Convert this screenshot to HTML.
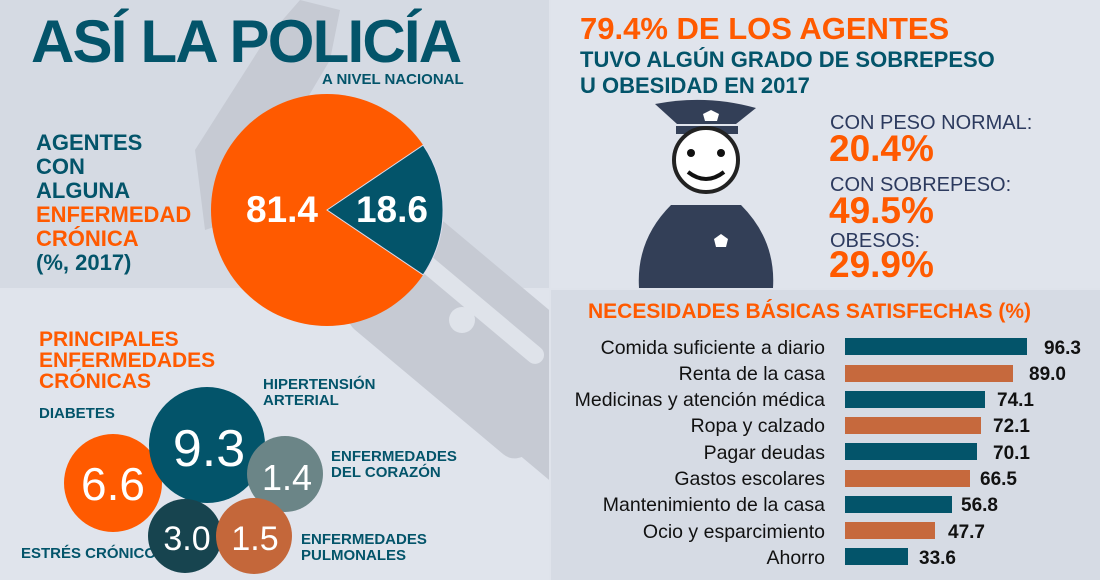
<!DOCTYPE html>
<html><head><meta charset="utf-8"><style>
*{margin:0;padding:0}
body{width:1100px;height:580px;overflow:hidden;position:relative;font-family:"Liberation Sans",sans-serif;background:#dfe3eb}
.a{position:absolute;white-space:nowrap}
.b{font-weight:bold}
.teal{color:#03546a}.or{color:#ff5a00}
</style></head><body>
<div class="a" style="left:0;top:0;width:549px;height:288px;background:#d5dae3"></div>
<div class="a" style="left:551px;top:0;width:549px;height:288px;background:#e0e4ec"></div>
<div class="a" style="left:0;top:290px;width:549px;height:290px;background:#e0e4ec"></div>
<div class="a" style="left:551px;top:290px;width:549px;height:290px;background:#d6dbe4"></div>
<!-- background cuffs -->
<svg class="a" style="left:0;top:0" width="549" height="580">
<g fill="#c6cad3">
<path d="M195 150 L265 40 L300 0 L340 10 L330 60 L235 220 L205 230 Z"/>
<rect x="360" y="265" width="230" height="140" rx="18" transform="rotate(40 470 335)"/>
<rect x="500" y="420" width="120" height="60" rx="10" transform="rotate(40 560 450)"/>
</g>
<g fill="#dfe3ea"><rect x="400" y="300" width="160" height="18" rx="9" transform="rotate(40 480 310)"/>
<circle cx="462" cy="320" r="13"/></g>
</svg>
<div class="a b teal" style="left:31px;top:7px;font-size:60px;letter-spacing:-1.8px">ASÍ LA POLICÍA</div>
<div class="a b teal" style="left:322px;top:71px;font-size:15px">A NIVEL NACIONAL</div>
<div class="a b" style="left:36px;top:131px;font-size:22px;line-height:24px">
<span class="teal">AGENTES<br>CON<br>ALGUNA</span><br><span class="or">ENFERMEDAD<br>CRÓNICA</span><br><span class="teal">(%, 2017)</span></div>
<svg class="a" style="left:0;top:0" width="549" height="340">
<circle cx="327" cy="210" r="116" fill="#ff5a00"/>
<path d="M327 210 L423.2 145.1 A116 116 0 0 1 423.2 274.9 Z" fill="#03546a" stroke="#dde" stroke-width="1"/>
<text x="282" y="222" font-size="37" font-weight="bold" fill="#fff" text-anchor="middle" font-family="Liberation Sans">81.4</text>
<text x="392" y="222" font-size="37" font-weight="bold" fill="#fff" text-anchor="middle" font-family="Liberation Sans">18.6</text>
</svg>
<!-- top right -->
<div class="a b or" style="left:580px;top:11px;font-size:31px">79.4% DE LOS AGENTES</div>
<div class="a b teal" style="left:580px;top:47px;font-size:22px;line-height:26px">TUVO ALGÚN GRADO DE SOBREPESO<br>U OBESIDAD EN 2017</div>
<svg class="a" style="left:551px;top:0" width="549" height="288">
<path d="M104 104 Q155 94 205 108 L185 124 L126 124 Z" fill="#333f57"/>
<rect x="125" y="126" width="62" height="8" fill="#333f57"/>
<circle cx="155" cy="160" r="32" fill="#fff" stroke="#222" stroke-width="4"/>
<circle cx="140" cy="153" r="4" fill="#111"/><circle cx="170" cy="153" r="4" fill="#111"/>
<path d="M137 172 Q155 186 173 172" fill="none" stroke="#111" stroke-width="4"/>
<path d="M120 205 L190 205 Q225 240 222 288 L88 288 Q85 240 120 205Z" fill="#333f57"/>
<polygon points="160,110 168,114 166,121 154,121 152,114" fill="#fff"/>
<polygon points="170,234 177,239 175,247 165,247 163,239" fill="#fff"/>
</svg>
<div class="a" style="left:830px;top:112px;font-size:20px;color:#2c3a5e">CON PESO NORMAL:</div>
<div class="a b or" style="left:829px;top:128px;font-size:37px">20.4%</div>
<div class="a" style="left:830px;top:174px;font-size:20px;color:#2c3a5e">CON SOBREPESO:</div>
<div class="a b or" style="left:829px;top:190px;font-size:37px">49.5%</div>
<div class="a" style="left:830px;top:230px;font-size:20px;color:#2c3a5e">OBESOS:</div>
<div class="a b or" style="left:829px;top:244px;font-size:37px">29.9%</div>
<!-- bottom left -->
<div class="a b or" style="left:39px;top:329px;font-size:21px;line-height:21px">PRINCIPALES<br>ENFERMEDADES<br>CRÓNICAS</div>
<div class="a b teal" style="left:39px;top:405px;font-size:15px">DIABETES</div>
<div class="a b teal" style="left:263px;top:377px;font-size:15px;line-height:16px">HIPERTENSIÓN<br>ARTERIAL</div>
<div class="a b teal" style="left:331px;top:449px;font-size:15px;line-height:16px">ENFERMEDADES<br>DEL CORAZÓN</div>
<div class="a b teal" style="left:301px;top:532px;font-size:15px;line-height:16px">ENFERMEDADES<br>PULMONALES</div>
<div class="a b teal" style="left:21px;top:545px;font-size:15px">ESTRÉS CRÓNICO</div>
<svg class="a" style="left:0;top:290px" width="549" height="290" font-family="Liberation Sans" text-anchor="middle" fill="#fff">
<circle cx="113" cy="193" r="49" fill="#ff5a00"/>
<circle cx="207" cy="155" r="58" fill="#03546a"/>
<circle cx="285" cy="184" r="38" fill="#6b8587"/>
<circle cx="185" cy="246" r="37" fill="#17444f"/>
<circle cx="254" cy="246" r="38" fill="#c4673a"/>
<text x="113" y="210" font-size="46">6.6</text>
<text x="209" y="176" font-size="52">9.3</text>
<text x="287" y="200" font-size="36">1.4</text>
<text x="187" y="260" font-size="34">3.0</text>
<text x="255" y="260" font-size="34">1.5</text>
</svg>
<!-- bottom right -->
<div class="a b or" style="left:588px;top:300px;font-size:21px">NECESIDADES BÁSICAS SATISFECHAS (%)</div>
<svg class="a" style="left:551px;top:290px" width="549" height="290" font-family="Liberation Sans">
<g font-size="19.5" text-anchor="end" fill="#111">
<text x="274" y="64">Comida suficiente a diario</text>
<text x="274" y="90">Renta de la casa</text>
<text x="274" y="116">Medicinas y atención médica</text>
<text x="274" y="142">Ropa y calzado</text>
<text x="274" y="169">Pagar deudas</text>
<text x="274" y="195">Gastos escolares</text>
<text x="274" y="221">Mantenimiento de la casa</text>
<text x="274" y="248">Ocio y esparcimiento</text>
<text x="274" y="274">Ahorro</text>
</g>
<g>
<rect x="294" y="48" width="182" height="17" fill="#03546a"/>
<rect x="294" y="75" width="168" height="17" fill="#c6693d"/>
<rect x="294" y="101" width="140" height="17" fill="#03546a"/>
<rect x="294" y="127" width="136" height="17" fill="#c6693d"/>
<rect x="294" y="153" width="132" height="17" fill="#03546a"/>
<rect x="294" y="180" width="125" height="17" fill="#c6693d"/>
<rect x="294" y="206" width="107" height="17" fill="#03546a"/>
<rect x="294" y="232" width="90" height="17" fill="#c6693d"/>
<rect x="294" y="258" width="63" height="17" fill="#03546a"/>
</g>
<g font-size="19" font-weight="bold" fill="#111">
<text x="493" y="64">96.3</text>
<text x="478" y="90">89.0</text>
<text x="446" y="116">74.1</text>
<text x="442" y="142">72.1</text>
<text x="442" y="169">70.1</text>
<text x="429" y="195">66.5</text>
<text x="410" y="221">56.8</text>
<text x="397" y="248">47.7</text>
<text x="368" y="274">33.6</text>
</g>
</svg>
</body></html>
